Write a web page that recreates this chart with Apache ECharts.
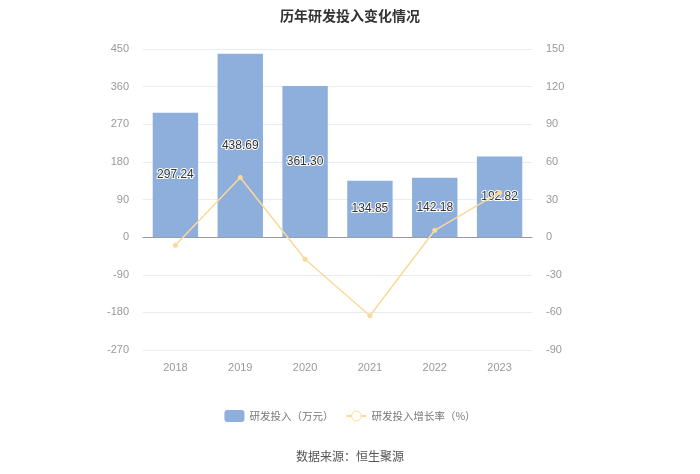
<!DOCTYPE html>
<html><head><meta charset="utf-8">
<script src="https://cdn.jsdelivr.net/npm/echarts@6/dist/echarts.min.js"></script>
<style>html,body{margin:0;padding:0;background:#fff}#c{width:700px;height:474px}</style>
</head><body><div id="c"></div>
<script>
var categories = ['2018','2019','2020','2021','2022','2023'];
var rdInvest = [297.24, 438.69, 361.30, 134.85, 142.18, 192.82];
var rdGrowth = [-6.4, 47.59, -17.64, -62.68, 5.44, 35.62];
var chart = echarts.init(document.getElementById('c'));
var font = '"Microsoft YaHei","Noto Sans CJK SC",sans-serif';
chart.setOption({
  backgroundColor: '#fff',
  title: {text: '历年研发投入变化情况', left: 'center', top: 4,
    textStyle: {fontSize: 14, fontWeight: 'bold', color: '#333', fontFamily: font}},
  graphic: [{type: 'text', left: 'center', top: 450,
    style: {text: '数据来源：恒生聚源', fontSize: 12, fill: '#555', fontFamily: font}}],
  legend: {bottom: 47, left: 'center', itemWidth: 20, itemHeight: 12, itemGap: 12,
    textStyle: {fontSize: 10.5, color: '#777', fontFamily: font},
    data: [{name: '研发投入（万元）'},
      {name: '研发投入增长率（%）', itemStyle: {color: '#fff', borderColor: '#fcd99a', borderWidth: 1}}]},
  grid: {left: 143, right: 168, top: 49, bottom: 124},
  xAxis: {type: 'category', data: categories,
    axisLine: {lineStyle: {color: '#999'}}, axisTick: {alignWithLabel: true, lineStyle: {color: '#ccc'}},
    axisLabel: {color: '#999', fontSize: 11, margin: 12}},
  yAxis: [
    {type: 'value', min: -270, max: 450, interval: 90,
      axisLine: {show: false}, axisTick: {show: false},
      axisLabel: {color: '#999', fontSize: 11, margin: 14},
      splitLine: {lineStyle: {color: '#e8ecf2'}}},
    {type: 'value', min: -90, max: 150, interval: 30,
      axisLine: {show: false}, axisTick: {show: false},
      axisLabel: {color: '#999', fontSize: 11, margin: 14},
      splitLine: {show: false}}
  ],
  series: [
    {name: '研发投入（万元）', type: 'bar', data: rdInvest, barWidth: '70%',
      itemStyle: {color: '#8eaedb'},
      label: {show: true, position: 'inside', color: '#333', fontSize: 12,
        textBorderColor: '#fff', textBorderWidth: 2,
        formatter: function(p){return p.value.toFixed(2);}}},
    {name: '研发投入增长率（%）', type: 'line', yAxisIndex: 1, data: rdGrowth,
      symbol: 'circle', symbolSize: 5,
      lineStyle: {color: '#fcd99a', width: 1.5},
      itemStyle: {color: '#fcd99a'}}
  ]
});
</script></body></html>
